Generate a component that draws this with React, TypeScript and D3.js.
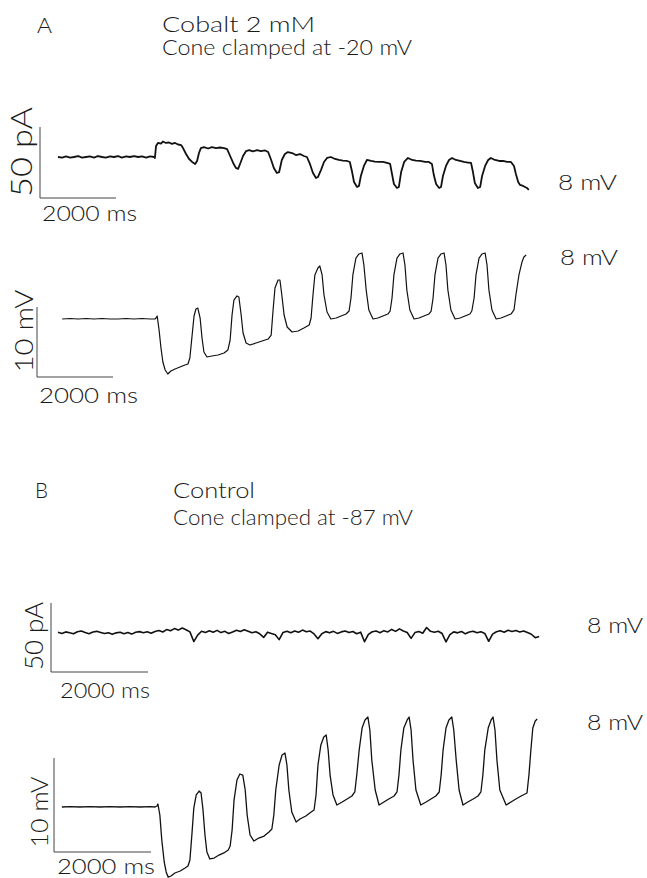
import React from 'react';
import * as d3 from 'd3';

// ---- Panel A (Cobalt 2 mM, cone clamped at -20 mV) ----
// time (s) , current (pA, relative to holding)
const A_CURRENT: [number, number][] = [
  [0, 0], [0.11, -0.4], [0.21, 0.4], [0.32, -0.4], [0.42, 0], [0.53, 0.7], [0.63, -0.4], [0.74, 0],
  [0.84, 0.4], [0.95, -0.4], [1.05, 0.7], [1.16, 0], [1.26, -0.4], [1.37, 0.4], [1.47, 0], [1.58, 0.7],
  [1.68, -0.4], [1.79, 0.4], [1.89, 0], [2.0, 0.7], [2.11, 0], [2.21, 0.4], [2.32, -0.4], [2.42, 0.4],
  [2.53, 0], [2.55, -0.7], [2.58, 7.7], [2.63, 9.9], [2.71, 9.5], [2.76, 10.9], [2.84, 9.9], [2.92, 10.2],
  [3.0, 9.2], [3.08, 9.9], [3.16, 8.8], [3.24, 8.4], [3.29, 6.3], [3.37, 2.1], [3.45, -1.4], [3.53, -3.5],
  [3.61, -4.9], [3.66, -2.8], [3.71, 2.8], [3.76, 6.3], [3.84, 7.0], [3.95, 6.0], [4.05, 7.0], [4.16, 6.3],
  [4.26, 6.7], [4.37, 6.3], [4.45, 5.6], [4.53, 0.7], [4.61, -4.2], [4.68, -7.7], [4.74, -8.4], [4.79, -4.9],
  [4.87, 0.7], [4.95, 4.2], [5.03, 4.9], [5.13, 3.9], [5.24, 4.9], [5.34, 4.2], [5.45, 4.6], [5.53, 3.5],
  [5.61, -2.1], [5.68, -7.7], [5.76, -11.3], [5.82, -10.6], [5.89, -2.1], [5.97, 2.1], [6.05, 3.5], [6.16, 2.8],
  [6.26, 1.4], [6.37, 2.1], [6.47, 0.7], [6.55, 0], [6.63, -4.9], [6.71, -11.3], [6.79, -14.8], [6.84, -14.1],
  [6.92, -9.2], [7.0, -3.5], [7.08, -0.7], [7.18, 0], [7.29, -1.4], [7.39, -2.1], [7.5, -2.5], [7.61, -2.8],
  [7.68, -3.5], [7.74, -10.6], [7.79, -17.6], [7.87, -21.1], [7.92, -20.4], [7.97, -13.4], [8.05, -6.3], [8.13, -2.1],
  [8.24, -2.8], [8.34, -3.2], [8.45, -3.5], [8.55, -3.5], [8.66, -4.2], [8.74, -4.9], [8.79, -12.0], [8.84, -19.0],
  [8.92, -21.8], [8.97, -21.1], [9.03, -10.6], [9.11, -3.5], [9.21, -0.7], [9.32, -2.1], [9.42, -2.5], [9.53, -2.8],
  [9.66, -3.5], [9.76, -3.5], [9.84, -4.9], [9.89, -12.7], [9.95, -19.0], [10.03, -21.8], [10.08, -21.1], [10.13, -13.4],
  [10.21, -6.3], [10.29, -2.1], [10.37, -0.7], [10.47, -2.1], [10.58, -2.8], [10.68, -3.5], [10.79, -3.9], [10.87, -4.2],
  [10.92, -10.6], [10.97, -18.3], [11.05, -21.8], [11.11, -21.1], [11.16, -13.4], [11.24, -6.3], [11.32, -2.1], [11.39, -0.7],
  [11.5, -2.1], [11.61, -2.8], [11.71, -2.8], [11.82, -3.5], [11.92, -3.5], [12.0, -6.3], [12.05, -12.0], [12.11, -17.6],
  [12.16, -19.7], [12.24, -20.4], [12.29, -21.1], [12.34, -21.8], [12.39, -23.2],
];

// time (s), membrane potential change (mV)
const A_VOLTAGE: [number, number][] = [
  [0.11, 0], [0.32, 0.07], [0.53, 0], [0.74, 0.07], [0.95, 0], [1.16, 0.07], [1.37, 0], [1.58, 0],
  [1.79, 0.07], [2.0, 0], [2.21, 0.07], [2.42, 0], [2.55, 0], [2.58, 0.14], [2.61, 0.43], [2.66, -1.57],
  [2.71, -4.14], [2.76, -6.14], [2.82, -7.29], [2.89, -7.86], [2.97, -7.43], [3.08, -7.14], [3.21, -6.86], [3.34, -6.57],
  [3.42, -6.43], [3.47, -5.57], [3.53, -2.29], [3.58, 0.43], [3.63, 1.43], [3.68, 1.57], [3.74, 0.14], [3.79, -2.71],
  [3.84, -4.71], [3.92, -5.43], [4.05, -5.29], [4.21, -5.14], [4.37, -4.86], [4.47, -4.43], [4.53, -3.0], [4.58, 0.57],
  [4.63, 2.71], [4.71, 3.29], [4.76, 3.14], [4.82, 0.57], [4.87, -2.0], [4.95, -3.43], [5.05, -3.71], [5.21, -3.43],
  [5.37, -3.14], [5.53, -2.86], [5.61, -2.29], [5.66, 1.29], [5.71, 4.43], [5.79, 5.57], [5.84, 5.57], [5.89, 3.43],
  [5.95, 0.57], [6.03, -1.14], [6.16, -1.86], [6.32, -1.71], [6.47, -1.29], [6.61, -0.86], [6.66, 0.14], [6.71, 3.43],
  [6.76, 6.29], [6.84, 7.29], [6.89, 7.57], [6.95, 6.29], [7.0, 3.43], [7.08, 1.0], [7.18, 0], [7.32, 0.14],
  [7.45, 0.43], [7.58, 0.71], [7.66, 1.14], [7.71, 3.0], [7.76, 6.29], [7.84, 8.71], [7.92, 9.29], [8.0, 9.43],
  [8.05, 7.71], [8.11, 4.14], [8.18, 1.29], [8.29, 0], [8.42, 0.14], [8.55, 0.43], [8.68, 0.71], [8.74, 1.14],
  [8.79, 3.0], [8.84, 6.29], [8.92, 8.71], [9.0, 9.29], [9.08, 9.43], [9.13, 7.71], [9.18, 4.14], [9.26, 1.29],
  [9.37, 0], [9.5, 0.14], [9.63, 0.43], [9.76, 0.71], [9.82, 1.14], [9.87, 3.0], [9.92, 6.29], [10.0, 8.71],
  [10.08, 9.29], [10.16, 9.43], [10.21, 7.71], [10.26, 4.14], [10.34, 1.29], [10.45, 0], [10.58, 0.14], [10.71, 0.43],
  [10.84, 0.71], [10.89, 1.14], [10.95, 3.0], [11.0, 6.29], [11.08, 8.71], [11.16, 9.29], [11.24, 9.43], [11.29, 7.71],
  [11.34, 4.14], [11.42, 1.29], [11.53, 0], [11.66, 0.14], [11.79, 0.43], [11.92, 0.71], [12.0, 1.29], [12.05, 3.43],
  [12.13, 6.29], [12.21, 8.14], [12.26, 8.86], [12.32, 9.14],
];

// ---- Panel B (Control, cone clamped at -87 mV) ----
// current sampled every 80 ms (pA)
const B_CURRENT_DT = 0.08;
const B_CURRENT: number[] = [
  0.5, -0.3, 0.8, 0.2, -0.6, 0.9, 1.4, 0.3, -0.5, 0.7, 1.2, 0.4, -0.4, 0.2, -0.9, 0.1,
  0.6, -0.5, 0.3, -0.8, 0.5, 1.0, 0.2, 0.9, -0.2, 1.1, 1.8, 0.7, 2.5, 1.6, 3.2, 2.1,
  3.6, 2.4, 0.8, -6.2, -1.5, 1.3, 0.4, 1.6, 0.6, 1.9, 0.3, 1.2, -0.4, 0.8, 2.0, 1.1,
  2.4, 1.3, 0.2, 0.9, -0.6, -3.2, 0.6, -0.4, -1.2, -4.8, 0.4, 1.3, 0.2, 1.5, 0.6, 2.1,
  0.9, 1.4, -0.7, -4.1, -0.5, 1.0, 0.1, 1.2, -0.3, 0.8, 1.5, 0.3, 1.1, -0.5, 0.6, -6.3,
  -1.0, 0.9, 1.4, 0.2, 1.7, 0.8, 2.6, 1.2, 3.0, 1.5, 0.4, -3.9, 0.3, 1.1, -0.2, 4.0,
  1.2, 0.5, 1.3, -0.4, -6.4, -1.2, 0.8, 0.1, 1.1, -0.6, 0.7, 1.3, 0.2, 0.9, -0.3, -6.0,
  -0.8, 0.9, 1.7, 0.6, 2.0, 1.1, 1.8, 0.7, 1.5, 0.3, -0.9, -3.4, -2.6,
];

// time (s), membrane potential change (mV)
const B_VOLTAGE: [number, number][] = [
  [0.08, 0], [0.25, 0.05], [0.45, 0], [0.66, 0.05], [0.87, 0], [1.07, 0.05], [1.28, 0], [1.48, 0.05],
  [1.69, 0], [1.9, 0.05], [2.0, 0], [2.04, 0.11], [2.06, 0.32], [2.1, -0.85], [2.14, -3.51], [2.19, -5.85],
  [2.23, -6.91], [2.27, -7.45], [2.33, -7.34], [2.41, -7.02], [2.52, -6.81], [2.62, -6.49], [2.68, -6.28], [2.72, -5.64],
  [2.76, -2.98], [2.8, -0.11], [2.85, 1.28], [2.91, 1.7], [2.95, 1.49], [2.99, -0.32], [3.03, -2.98], [3.07, -4.79],
  [3.13, -5.53], [3.22, -5.43], [3.32, -5.11], [3.42, -4.89], [3.51, -4.57], [3.55, -4.15], [3.59, -2.45], [3.63, 0.74],
  [3.69, 2.87], [3.75, 3.51], [3.81, 3.4], [3.86, 1.81], [3.9, -0.85], [3.96, -2.98], [4.04, -3.62], [4.14, -3.3],
  [4.25, -3.09], [4.35, -2.66], [4.41, -2.34], [4.45, -0.85], [4.49, 1.81], [4.56, 4.47], [4.62, 5.53], [4.68, 5.74],
  [4.72, 4.47], [4.76, 1.81], [4.82, -0.53], [4.91, -1.6], [4.99, -1.28], [5.11, -0.96], [5.22, -0.53], [5.28, -0.32],
  [5.32, 1.28], [5.36, 4.47], [5.42, 6.6], [5.48, 7.45], [5.53, 7.66], [5.57, 6.06], [5.61, 3.4], [5.67, 1.28],
  [5.75, 0.21], [5.86, 0.53], [5.96, 0.85], [6.06, 1.17], [6.12, 1.6], [6.16, 3.4], [6.21, 6.06], [6.27, 8.4],
  [6.33, 9.26], [6.39, 9.57], [6.43, 8.19], [6.47, 5.0], [6.54, 1.81], [6.62, 0.21], [6.72, 0.53], [6.82, 0.85],
  [6.93, 1.17], [6.99, 1.6], [7.03, 3.4], [7.07, 6.06], [7.13, 8.4], [7.2, 9.26], [7.24, 9.57], [7.28, 8.19],
  [7.32, 5.0], [7.38, 1.81], [7.48, 0.21], [7.59, 0.53], [7.69, 0.85], [7.79, 1.17], [7.86, 1.6], [7.9, 3.4],
  [7.94, 6.06], [8.0, 8.4], [8.06, 9.26], [8.12, 9.57], [8.16, 8.19], [8.21, 5.0], [8.27, 1.81], [8.35, 0.21],
  [8.45, 0.53], [8.56, 0.85], [8.66, 1.17], [8.72, 1.6], [8.76, 3.4], [8.8, 6.06], [8.87, 8.4], [8.93, 9.26],
  [8.97, 9.57], [9.01, 8.19], [9.05, 5.0], [9.11, 1.81], [9.24, 0.21], [9.34, 0.53], [9.44, 0.85], [9.55, 1.17],
  [9.67, 1.49], [9.71, 3.4], [9.75, 6.06], [9.79, 8.4], [9.84, 9.15], [9.88, 9.36],
];

// scale bar values and labels
const BAR_TIME_S = 2;
const BAR_TIME_LABEL = '2000 ms';
const BAR_CURRENT_PA = 50;
const BAR_CURRENT_LABEL = '50 pA';
const BAR_VOLTAGE_MV = 10;
const BAR_VOLTAGE_LABEL = '10 mV';
const TRACE_LABEL = '8 mV';

const FONT = "Lato, 'Open Sans', 'Liberation Sans', sans-serif";
const INK = '#1a1a1a';
const WEIGHT = 300;

type Scale = d3.ScaleLinear<number, number>;

function ScaleBar(props: {
  x0: number; yb: number; xs: Scale; ys: Scale; amp: number;
  ampLabel: string; ampSize: number; ampX: number; ampCy: number; ampLen: number;
  timeSize: number; timeDx: number; timeDy: number; timeLen: number;
}) {
  const { x0, yb, xs, ys, amp, ampLabel, ampSize, ampX, ampCy, ampLen, timeSize, timeDx, timeDy, timeLen } = props;
  const h = ys(0) - ys(amp);
  const w = xs(BAR_TIME_S) - xs(0);
  return (
    <g>
      <line x1={x0} y1={yb - h} x2={x0} y2={yb} stroke="#444" strokeWidth={1} />
      <line x1={x0} y1={yb} x2={x0 + w} y2={yb} stroke="#444" strokeWidth={1} />
      <text
        transform={`translate(${ampX},${ampCy}) rotate(-90)`}
        textAnchor="middle"
        fontSize={ampSize}
        fontFamily={FONT}
        fontWeight={WEIGHT}
        fill={INK}
        textLength={ampLen}
        lengthAdjust="spacingAndGlyphs"
      >
        {ampLabel}
      </text>
      <text
        x={x0 + timeDx}
        y={yb + timeDy}
        fontSize={timeSize}
        fontFamily={FONT}
        fontWeight={WEIGHT}
        fill={INK}
        textLength={timeLen}
        lengthAdjust="spacingAndGlyphs"
      >
        {BAR_TIME_LABEL}
      </text>
    </g>
  );
}

export default function App() {
  const xA = d3.scaleLinear().domain([0, 2]).range([58, 134]);
  const yAI = d3.scaleLinear().domain([0, 50]).range([157, 86]);
  const yAV = d3.scaleLinear().domain([0, 10]).range([319, 249]);
  const xB = d3.scaleLinear().domain([0, 2]).range([58, 155]);
  const yBI = d3.scaleLinear().domain([0, 50]).range([633, 564]);
  const yBV = d3.scaleLinear().domain([0, 10]).range([807, 713]);

  const lineOf = (xs: Scale, ys: Scale) =>
    d3.line<[number, number]>().x((d) => xs(d[0])).y((d) => ys(d[1]));

  const bCurrentPts: [number, number][] = B_CURRENT.map((v, i) => [i * B_CURRENT_DT, v]);

  const txt = (x: number, y: number, s: string, size: number, len?: number) => (
    <text x={x} y={y} fontSize={size} fontFamily={FONT} fontWeight={WEIGHT} fill={INK} textLength={len}
      lengthAdjust={len ? 'spacingAndGlyphs' : undefined}>
      {s}
    </text>
  );

  return (
    <svg
      width={647}
      height={878}
      style={{ position: 'absolute', left: 0, top: 0, background: '#fff' }}
    >
      <rect x={0} y={0} width={647} height={878} fill="#fff" />
      {/* Panel A headings */}
      {txt(37, 33, 'A', 21, 15)}
      {txt(162, 32, 'Cobalt 2 mM', 21, 153)}
      {txt(162, 55, 'Cone clamped at -20 mV', 21, 250)}

      {/* Panel A current */}
      <path d={lineOf(xA, yAI)(A_CURRENT) || ''} fill="none" stroke="#111" strokeWidth={1.8} strokeLinejoin="round" />
      <ScaleBar x0={40} yb={198} xs={xA} ys={yAI} amp={BAR_CURRENT_PA} ampLabel={BAR_CURRENT_LABEL}
        ampSize={30} ampX={32} ampCy={152} ampLen={90} timeSize={22} timeDx={2} timeDy={23} timeLen={95} />
      {txt(558, 190, TRACE_LABEL, 22, 59)}

      {/* Panel A voltage */}
      <path d={lineOf(xA, yAV)(A_VOLTAGE) || ''} fill="none" stroke="#111" strokeWidth={1.2} strokeLinejoin="round" />
      <ScaleBar x0={37} yb={377} xs={xA} ys={yAV} amp={BAR_VOLTAGE_MV} ampLabel={BAR_VOLTAGE_LABEL}
        ampSize={26} ampX={33} ampCy={331} ampLen={83} timeSize={22} timeDx={2} timeDy={26} timeLen={99} />
      {txt(560, 265, TRACE_LABEL, 22, 58)}

      {/* Panel B headings */}
      {txt(35, 498, 'B', 21, 13)}
      {txt(173, 498, 'Control', 21, 82)}
      {txt(173, 525, 'Cone clamped at -87 mV', 21, 240)}

      {/* Panel B current */}
      <path d={lineOf(xB, yBI)(bCurrentPts) || ''} fill="none" stroke="#111" strokeWidth={1.6} strokeLinejoin="round" />
      <ScaleBar x0={51} yb={672} xs={xB} ys={yBI} amp={BAR_CURRENT_PA} ampLabel={BAR_CURRENT_LABEL}
        ampSize={25} ampX={43} ampCy={636} ampLen={68} timeSize={21} timeDx={9} timeDy={26} timeLen={90} />
      {txt(587, 633, TRACE_LABEL, 22, 56)}

      {/* Panel B voltage */}
      <path d={lineOf(xB, yBV)(B_VOLTAGE) || ''} fill="none" stroke="#111" strokeWidth={1.3} strokeLinejoin="round" />
      <ScaleBar x0={54} yb={852} xs={xB} ys={yBV} amp={BAR_VOLTAGE_MV} ampLabel={BAR_VOLTAGE_LABEL}
        ampSize={23} ampX={48} ampCy={812} ampLen={71} timeSize={22} timeDx={3} timeDy={22} timeLen={98} />
      {txt(587, 730, TRACE_LABEL, 22, 56)}
    </svg>
  );
}
